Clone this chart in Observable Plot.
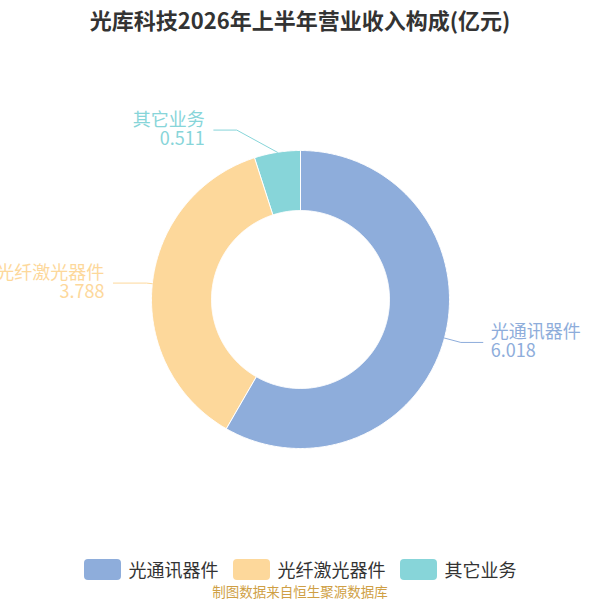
<!DOCTYPE html>
<html>
<head>
<meta charset="utf-8">
<script src="https://cdn.jsdelivr.net/npm/d3@7"></script>
<script src="https://cdn.jsdelivr.net/npm/@observablehq/plot@0.6"></script>
<style>
  body { margin: 0; width: 600px; height: 600px; position: relative; background: #fff;
         font-family: "Noto Sans CJK SC", "Noto Sans", sans-serif; overflow: hidden; }
  #title { position: absolute; top: 0; left: 0; width: 600px; text-align: center;
           font-size: 22px; font-weight: bold; color: #333; line-height: 38px; }
  #chart { position: absolute; top: 40px; left: 0; }
  #legend { position: absolute; top: 556px; left: 0; width: 600px; display: flex;
            justify-content: center; align-items: center; font-size: 18px; color: #333; }
  .item { display: flex; align-items: center; margin: 0 7px; }
  .sw { width: 37px; height: 21px; border-radius: 4px; margin-right: 8px; }
  #caption { position: absolute; top: 583px; left: 0; width: 600px; text-align: center;
             font-size: 13.5px; color: #cf9f45; line-height: 16px; }
</style>
</head>
<body>
<div id="title">光库科技2026年上半年营业收入构成(亿元)</div>
<div id="chart"></div>
<div id="legend"></div>
<div id="caption">制图数据来自恒生聚源数据库</div>
<script>
const categories = ["光通讯器件", "光纤激光器件", "其它业务"];
const values = [6.018, 3.788, 0.511];
const valueLabels = ["6.018", "3.788", "0.511"];
const colors = ["#8eaddb", "#fdd89b", "#87d5d9"];

// layout (not data)
const W = 600, H = 500, CY = 259;
const outerR = 149, innerR = 89;
const labelLayout = [
  {r: 166, da: 0, len2: 22},
  {r: 155, da: 0, len2: 33},
  {r: 181, da: -11.7, len2: 23}
];

const total = d3.sum(values);
const rad = d => d * Math.PI / 180;
const pt = (r, a) => [r * Math.sin(rad(a)), r * Math.cos(rad(a))];

const slices = [];
const leaders = [];
const labels = [];
let acc = 0;
categories.forEach((cat, i) => {
  const a0 = acc / total * 360;
  acc += values[i];
  const a1 = acc / total * 360;
  const n = Math.max(2, Math.ceil((a1 - a0) / 0.5));
  for (let k = 0; k <= n; k++) {
    const [x, y] = pt(outerR, a0 + (a1 - a0) * k / n);
    slices.push({cat, x, y});
  }
  for (let k = n; k >= 0; k--) {
    const [x, y] = pt(innerR, a0 + (a1 - a0) * k / n);
    slices.push({cat, x, y});
  }
  const mid = (a0 + a1) / 2;
  const L = labelLayout[i];
  const [sx, sy] = pt(outerR, mid);
  const [ex, ey] = pt(L.r, mid + L.da);
  const side = ex >= 0 ? 1 : -1;
  const hx = ex + side * L.len2;
  leaders.push({cat, x: sx, y: sy}, {cat, x: ex, y: ey}, {cat, x: hx, y: ey});
  labels.push({cat, x: hx, y: ey, side, text: cat + "\n" + valueLabels[i]});
});

const plot = Plot.plot({
  width: W, height: H,
  margin: 0,
  x: {domain: [-W / 2, W / 2], axis: null},
  y: {domain: [CY - H, CY], axis: null},
  color: {domain: categories, range: colors},
  style: {fontFamily: '"Noto Sans CJK SC", "Noto Sans", sans-serif', background: "transparent"},
  marks: [
    Plot.line(slices, {x: "x", y: "y", z: "cat", fill: "cat", stroke: "#fff", strokeWidth: 1, curve: "linear-closed"}),
    Plot.line(leaders, {x: "x", y: "y", z: "cat", stroke: "cat", strokeWidth: 1}),
    Plot.text(labels.filter(d => d.side > 0), {x: "x", y: "y", text: "text", fill: "cat", fontSize: 18,
      textAnchor: "start", dx: 8, dy: -1, lineHeight: 1.08}),
    Plot.text(labels.filter(d => d.side < 0), {x: "x", y: "y", text: "text", fill: "cat", fontSize: 18,
      textAnchor: "end", dx: -9, dy: -1, lineHeight: 1.08})
  ]
});
document.getElementById("chart").appendChild(plot);

const legend = document.getElementById("legend");
categories.forEach((cat, i) => {
  const it = document.createElement("div");
  it.className = "item";
  const sw = document.createElement("div");
  sw.className = "sw";
  sw.style.background = colors[i];
  const tx = document.createElement("span");
  tx.textContent = cat;
  it.appendChild(sw);
  it.appendChild(tx);
  legend.appendChild(it);
});
</script>
</body>
</html>
